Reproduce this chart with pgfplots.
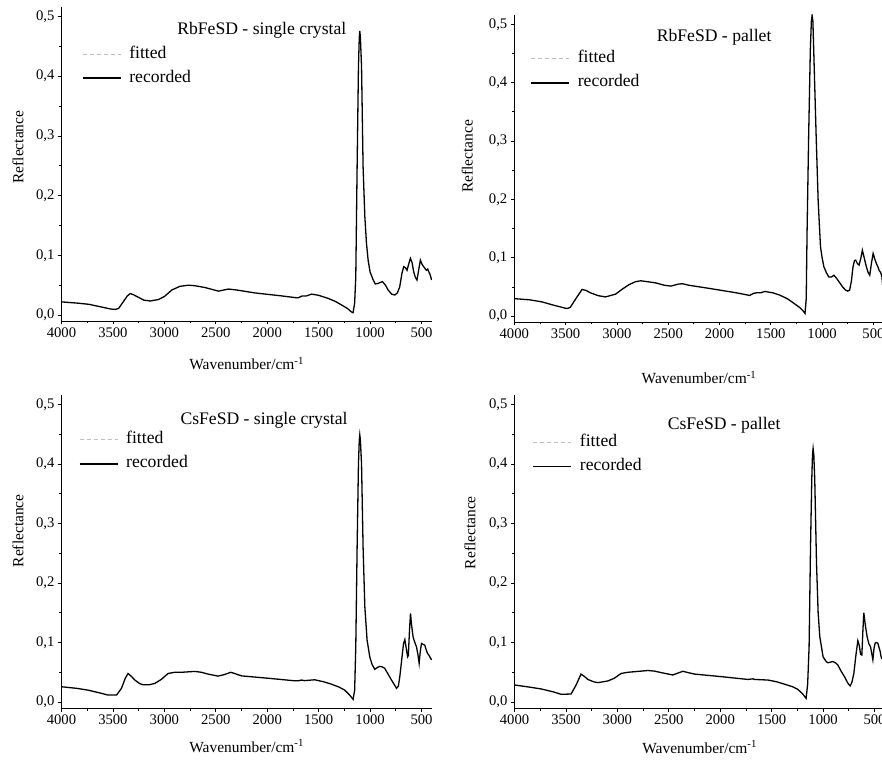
\documentclass[border=0pt]{standalone}
\usepackage{fontspec}
\setmainfont{Liberation Serif}
\usepackage{pgfplots}
\pgfplotsset{compat=1.18}
\newcommand\fs[1]{\fontsize{#1}{#1}\selectfont}
\pgfplotsset{panel/.style={
  scale only axis, x dir=reverse, xmin=400, xmax=4000, ymin=-0.01, ymax=0.516,
  axis x line*=bottom, axis y line*=left,
  xtick={500,1000,1500,2000,2500,3000,3500,4000}, minor x tick num=1,
  ytick={0,0.1,0.2,0.3,0.4,0.5}, minor y tick num=1,
  tick align=outside, major tick length=3.5bp, minor tick length=2.5bp,
  axis line style={line width=0.8bp, black},
  tick style={line width=0.8bp, black},
  /pgf/number format/assume math mode=true,
  yticklabel style={/pgf/number format/.cd, fixed, fixed zerofill, precision=1, use comma},
  xticklabel style={/pgf/number format/.cd, fixed, 1000 sep={}},
  tick label style={font=\fs{14.7}},
  label style={font=\fs{15.5}},
  ylabel=Reflectance, xlabel={Wavenumber/cm\textsuperscript{-1}},
  legend image code/.code={\draw[##1] (0bp,0bp) -- (38bp,0bp);},
  legend cell align=left,
  legend style={draw=none, fill=none, inner sep=0pt, outer sep=0pt, row sep=8bp, column sep=8bp,
    font=\fs{17.7}, anchor=west, nodes={inner sep=0pt, text height=12bp, text depth=4bp}},
}}
\begin{document}
\begin{tikzpicture}
\useasboundingbox (0bp,0bp) rectangle (882bp,763bp);
% ---------------- top left
\begin{axis}[panel, at={(61.5bp,442bp)}, anchor=south west, width=370.3bp, height=314bp,
  xlabel style={at={(axis description cs:0.5,0)}, anchor=base, yshift=-49bp},
  ylabel style={at={(axis description cs:-0.1175,0.554)}, anchor=center},
  legend style={at={(axis description cs:0.0554,0.812)}}]
\addlegendimage{color=black!25, line width=1bp, dash pattern=on 4bp off 3bp}
\addplot[black, line width=1.3bp] table {
4000 0.022
3850 0.020
3735 0.018
3600 0.013
3520 0.010
3476 0.0095
3445 0.011
3400 0.022
3360 0.032
3331 0.036
3300 0.034
3267 0.031
3200 0.025
3137 0.0235
3057 0.026
3000 0.031
2926 0.042
2850 0.048
2765 0.050
2700 0.049
2603 0.046
2474 0.040
2420 0.042
2377 0.0435
2300 0.042
2118 0.037
1859 0.032
1720 0.029
1698 0.029
1660 0.032
1620 0.032
1568 0.035
1500 0.033
1410 0.028
1340 0.023
1277 0.0168
1220 0.011
1180 0.005
1165 0.004
1150 0.02
1139 0.064
1126 0.248
1113 0.416
1105 0.465
1100 0.476
1094 0.465
1083 0.416
1068 0.248
1051 0.165
1035 0.12
1019 0.092
1000 0.072
970 0.059
950 0.052
922 0.053
880 0.056
850 0.050
825 0.042
790 0.035
760 0.0335
735 0.037
712 0.047
690 0.07
673 0.081
655 0.079
641 0.075
625 0.085
608 0.095
592 0.088
576 0.0725
560 0.063
544 0.0586
528 0.075
511 0.092
495 0.085
479 0.081
466 0.078
453 0.075
440 0.077
428 0.072
415 0.067
402 0.0586
};
\legend{fitted, recorded}
\node[anchor=base, font=\fs{17.7}] at (axis description cs:0.541,0.911) {RbFeSD - single crystal};
\end{axis}
% ---------------- top right
\begin{axis}[panel, at={(514.3bp,441bp)}, anchor=south west, width=369.4bp, height=307bp,
  xlabel style={at={(axis description cs:0.5,0)}, anchor=base, yshift=-62bp},
  ylabel style={at={(axis description cs:-0.1272,0.54)}, anchor=center},
  legend style={at={(axis description cs:0.044,0.818)}}]
\addlegendimage{color=black!25, line width=1bp, dash pattern=on 4bp off 3bp}
\addplot[black, line width=1.3bp] table {
4000 0.030
3850 0.028
3732 0.0245
3600 0.018
3487 0.013
3455 0.015
3400 0.030
3340 0.0458
3300 0.044
3258 0.040
3180 0.035
3111 0.033
3013 0.0377
2950 0.046
2882 0.054
2820 0.059
2768 0.0606
2700 0.059
2621 0.057
2540 0.053
2474 0.0515
2400 0.055
2360 0.0555
2300 0.053
2098 0.0475
1836 0.040
1706 0.0355
1670 0.039
1640 0.040
1600 0.040
1559 0.0423
1480 0.040
1412 0.036
1340 0.030
1281 0.0228
1220 0.015
1190 0.010
1167 0.0046
1155 0.03
1147 0.142
1131 0.313
1115 0.456
1105 0.505
1098 0.515
1090 0.505
1082 0.456
1059 0.313
1039 0.199
1016 0.119
1000 0.100
983 0.0846
960 0.075
935 0.067
910 0.067
885 0.070
860 0.065
836 0.059
800 0.050
771 0.0446
750 0.043
732 0.0446
715 0.06
699 0.0846
685 0.095
673 0.096
656 0.090
640 0.0875
622 0.100
608 0.113
590 0.100
569 0.0846
552 0.075
536 0.070
520 0.090
503 0.1075
487 0.098
471 0.090
455 0.084
444 0.078
430 0.075
418 0.068
410 0.053
};
\legend{fitted, recorded}
\node[anchor=base, font=\fs{17.7}] at (axis description cs:0.541,0.913) {RbFeSD - pallet};
\end{axis}
% ---------------- bottom left
\begin{axis}[panel, at={(61.5bp,55bp)}, anchor=south west, width=370.3bp, height=313bp,
  xlabel style={at={(axis description cs:0.5,0)}, anchor=base, yshift=-44bp},
  ylabel style={at={(axis description cs:-0.1175,0.566)}, anchor=center},
  legend style={at={(axis description cs:0.047,0.818)}}]
\addlegendimage{color=black!25, line width=1bp, dash pattern=on 4bp off 3bp}
\addplot[black, line width=1.3bp] table {
4000 0.0257
3850 0.023
3741 0.020
3620 0.015
3547 0.0117
3465 0.0117
3417 0.023
3380 0.040
3353 0.048
3320 0.043
3287 0.037
3240 0.031
3207 0.029
3150 0.029
3093 0.0313
3030 0.038
2964 0.048
2900 0.050
2833 0.050
2704 0.0515
2640 0.050
2575 0.047
2478 0.0436
2420 0.046
2354 0.050
2300 0.047
2250 0.044
1991 0.040
1732 0.0357
1690 0.036
1667 0.037
1640 0.036
1537 0.0374
1450 0.034
1375 0.030
1300 0.025
1246 0.020
1200 0.012
1165 0.0045
1150 0.02
1139 0.093
1126 0.26
1113 0.40
1105 0.44
1100 0.449
1094 0.44
1083 0.40
1068 0.26
1051 0.16
1029 0.104
1003 0.076
980 0.063
954 0.055
930 0.058
905 0.060
880 0.059
857 0.0565
825 0.047
792 0.037
760 0.028
743 0.023
725 0.027
711 0.0425
690 0.075
675 0.098
662 0.105
648 0.09
635 0.076
628 0.078
617 0.12
607 0.149
597 0.13
582 0.1096
565 0.10
549 0.093
535 0.08
523 0.065
512 0.085
500 0.0985
485 0.097
468 0.0956
455 0.088
442 0.082
425 0.078
410 0.073
400 0.071
};
\legend{fitted, recorded}
\node[anchor=base, font=\fs{17.7}] at (axis description cs:0.547,0.906) {CsFeSD - single crystal};
\end{axis}
% ---------------- bottom right
\begin{axis}[panel, at={(514.5bp,55bp)}, anchor=south west, width=370.3bp, height=313bp,
  xlabel style={at={(axis description cs:0.5,0)}, anchor=base, yshift=-45bp},
  ylabel style={at={(axis description cs:-0.1202,0.56)}, anchor=center},
  legend style={at={(axis description cs:0.049,0.809)}}]
\addlegendimage{color=black!25, line width=1bp, dash pattern=on 4bp off 3bp}
\addplot[black, line width=1.3bp] table {
4000 0.0287
3850 0.025
3741 0.022
3620 0.017
3547 0.013
3450 0.0135
3401 0.0287
3353 0.047
3320 0.043
3287 0.038
3230 0.034
3190 0.0326
3093 0.0354
3030 0.040
2964 0.048
2900 0.050
2833 0.051
2704 0.053
2640 0.052
2575 0.0495
2461 0.0455
2364 0.0517
2300 0.049
2250 0.047
1991 0.0427
1732 0.038
1680 0.039
1667 0.038
1537 0.037
1450 0.034
1375 0.030
1300 0.026
1246 0.0214
1200 0.014
1165 0.0062
1150 0.03
1136 0.093
1122 0.262
1110 0.374
1103 0.415
1097 0.426
1090 0.415
1081 0.374
1064 0.234
1048 0.15
1032 0.110
1000 0.076
970 0.068
954 0.066
930 0.067
905 0.068
880 0.066
857 0.0624
825 0.052
792 0.0427
760 0.032
737 0.027
720 0.033
701 0.048
680 0.08
662 0.103
648 0.095
635 0.080
623 0.079
613 0.12
604 0.150
590 0.13
572 0.110
555 0.098
539 0.093
525 0.08
516 0.071
505 0.09
494 0.099
480 0.1
468 0.099
458 0.093
445 0.085
436 0.076
425 0.072
};
\legend{fitted, recorded}
\node[anchor=base, font=\fs{17.7}] at (axis description cs:0.566,0.891) {CsFeSD - pallet};
\end{axis}
\end{tikzpicture}
\end{document}
